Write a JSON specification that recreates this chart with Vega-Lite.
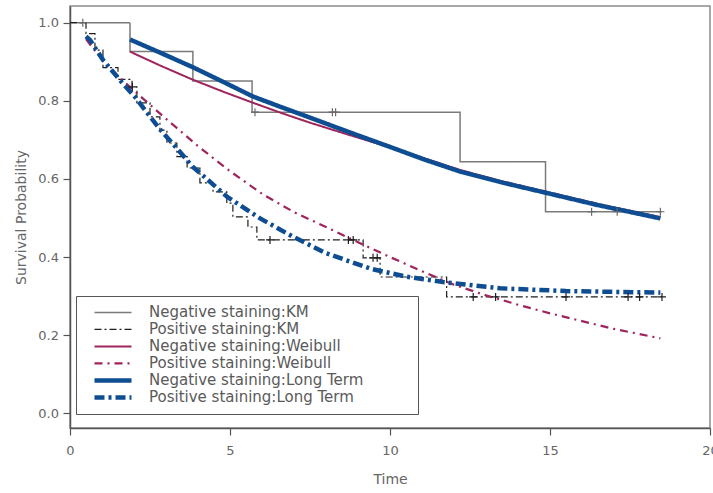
{
  "$schema": "https://vega.github.io/schema/vega-lite/v6.json",
  "width": 640,
  "height": 422,
  "autosize": {"type": "none"},
  "padding": {"left": 70, "top": 6, "right": 3, "bottom": 65},
  "background": "white",
  "config": {
    "font": "DejaVu Sans",
    "view": {"stroke": "#8c8c8c", "strokeWidth": 1.5},
    "axis": {"grid": false, "domainColor": "#555555", "domainWidth": 1.5, "tickColor": "#555555", "tickWidth": 1.2, "tickSize": 7, "labelColor": "#666666", "labelFontSize": 13, "titleColor": "#666666", "titleFontSize": 14, "titleFontWeight": "normal"},
    "legend": {"orient": "none", "legendX": 6, "legendY": 290, "titleOrient": "right", "titlePadding": 47, "strokeColor": "#555555", "padding": 8, "symbolType": "stroke", "symbolSize": 1369, "clipHeight": 16.8, "rowPadding": 0, "labelOffset": 15, "labelFontSize": 15, "labelColor": "#5a5a5a", "symbolOffset": 8, "labelLimit": 400}
  },
  "datasets": {
    "km": [
      {"series": "Negative staining:KM", "time": 0, "surv": 1.0},
      {"series": "Negative staining:KM", "time": 1.875, "surv": 0.926},
      {"series": "Negative staining:KM", "time": 3.84, "surv": 0.851},
      {"series": "Negative staining:KM", "time": 5.69, "surv": 0.771},
      {"series": "Negative staining:KM", "time": 12.19, "surv": 0.644},
      {"series": "Negative staining:KM", "time": 14.86, "surv": 0.516},
      {"series": "Negative staining:KM", "time": 18.49, "surv": 0.516},
      {"series": "Positive staining:KM", "time": 0, "surv": 1.0},
      {"series": "Positive staining:KM", "time": 0.5, "surv": 0.972},
      {"series": "Positive staining:KM", "time": 0.78, "surv": 0.93},
      {"series": "Positive staining:KM", "time": 1.03, "surv": 0.885},
      {"series": "Positive staining:KM", "time": 1.5, "surv": 0.855},
      {"series": "Positive staining:KM", "time": 1.94, "surv": 0.836},
      {"series": "Positive staining:KM", "time": 2.09, "surv": 0.795},
      {"series": "Positive staining:KM", "time": 2.5, "surv": 0.759},
      {"series": "Positive staining:KM", "time": 2.81, "surv": 0.725},
      {"series": "Positive staining:KM", "time": 3.03, "surv": 0.692},
      {"series": "Positive staining:KM", "time": 3.34, "surv": 0.657},
      {"series": "Positive staining:KM", "time": 3.66, "surv": 0.628},
      {"series": "Positive staining:KM", "time": 4.06, "surv": 0.59},
      {"series": "Positive staining:KM", "time": 4.47, "surv": 0.567},
      {"series": "Positive staining:KM", "time": 4.9, "surv": 0.538},
      {"series": "Positive staining:KM", "time": 5.09, "surv": 0.503},
      {"series": "Positive staining:KM", "time": 5.56, "surv": 0.477},
      {"series": "Positive staining:KM", "time": 5.84, "surv": 0.444},
      {"series": "Positive staining:KM", "time": 9.16, "surv": 0.398},
      {"series": "Positive staining:KM", "time": 9.69, "surv": 0.349},
      {"series": "Positive staining:KM", "time": 11.77, "surv": 0.298},
      {"series": "Positive staining:KM", "time": 18.5, "surv": 0.298}
    ],
    "model": [
      {"series": "Negative staining:Weibull", "time": 1.875, "surv": 0.926},
      {"series": "Negative staining:Weibull", "time": 2.8, "surv": 0.891},
      {"series": "Negative staining:Weibull", "time": 3.84, "surv": 0.854},
      {"series": "Negative staining:Weibull", "time": 4.8, "surv": 0.823},
      {"series": "Negative staining:Weibull", "time": 5.72, "surv": 0.795},
      {"series": "Negative staining:Weibull", "time": 6.6, "surv": 0.769},
      {"series": "Negative staining:Weibull", "time": 7.5, "surv": 0.744},
      {"series": "Negative staining:Weibull", "time": 8.75, "surv": 0.712},
      {"series": "Negative staining:Weibull", "time": 10, "surv": 0.681},
      {"series": "Negative staining:Weibull", "time": 11.1, "surv": 0.652},
      {"series": "Negative staining:Weibull", "time": 12.19, "surv": 0.623},
      {"series": "Negative staining:Weibull", "time": 13.5, "surv": 0.594},
      {"series": "Negative staining:Weibull", "time": 14.9, "surv": 0.567},
      {"series": "Negative staining:Weibull", "time": 16.5, "surv": 0.536},
      {"series": "Negative staining:Weibull", "time": 18.45, "surv": 0.502},
      {"series": "Positive staining:Weibull", "time": 0.5, "surv": 0.958},
      {"series": "Positive staining:Weibull", "time": 1, "surv": 0.905},
      {"series": "Positive staining:Weibull", "time": 1.5, "surv": 0.864},
      {"series": "Positive staining:Weibull", "time": 2, "surv": 0.826},
      {"series": "Positive staining:Weibull", "time": 2.5, "surv": 0.79},
      {"series": "Positive staining:Weibull", "time": 3, "surv": 0.754},
      {"series": "Positive staining:Weibull", "time": 4, "surv": 0.684},
      {"series": "Positive staining:Weibull", "time": 5, "surv": 0.62},
      {"series": "Positive staining:Weibull", "time": 6, "surv": 0.562},
      {"series": "Positive staining:Weibull", "time": 7, "surv": 0.515},
      {"series": "Positive staining:Weibull", "time": 8, "surv": 0.477},
      {"series": "Positive staining:Weibull", "time": 9, "surv": 0.438},
      {"series": "Positive staining:Weibull", "time": 10, "surv": 0.4},
      {"series": "Positive staining:Weibull", "time": 11, "surv": 0.364},
      {"series": "Positive staining:Weibull", "time": 12, "surv": 0.329},
      {"series": "Positive staining:Weibull", "time": 13, "surv": 0.302},
      {"series": "Positive staining:Weibull", "time": 14, "surv": 0.278},
      {"series": "Positive staining:Weibull", "time": 15, "surv": 0.256},
      {"series": "Positive staining:Weibull", "time": 16, "surv": 0.236},
      {"series": "Positive staining:Weibull", "time": 17, "surv": 0.216},
      {"series": "Positive staining:Weibull", "time": 18.45, "surv": 0.192},
      {"series": "Negative staining:Long Term", "time": 1.875, "surv": 0.957},
      {"series": "Negative staining:Long Term", "time": 2.8, "surv": 0.924},
      {"series": "Negative staining:Long Term", "time": 3.84, "surv": 0.886},
      {"series": "Negative staining:Long Term", "time": 4.8, "surv": 0.848},
      {"series": "Negative staining:Long Term", "time": 5.72, "surv": 0.811},
      {"series": "Negative staining:Long Term", "time": 6.6, "surv": 0.784},
      {"series": "Negative staining:Long Term", "time": 7.5, "surv": 0.757},
      {"series": "Negative staining:Long Term", "time": 8.75, "surv": 0.719},
      {"series": "Negative staining:Long Term", "time": 10, "surv": 0.682},
      {"series": "Negative staining:Long Term", "time": 11.1, "surv": 0.649},
      {"series": "Negative staining:Long Term", "time": 12.19, "surv": 0.619},
      {"series": "Negative staining:Long Term", "time": 13.5, "surv": 0.591},
      {"series": "Negative staining:Long Term", "time": 14.9, "surv": 0.564},
      {"series": "Negative staining:Long Term", "time": 16.5, "surv": 0.533},
      {"series": "Negative staining:Long Term", "time": 18.45, "surv": 0.499},
      {"series": "Positive staining:Long Term", "time": 0.5, "surv": 0.965},
      {"series": "Positive staining:Long Term", "time": 0.625, "surv": 0.956},
      {"series": "Positive staining:Long Term", "time": 1.03, "surv": 0.905},
      {"series": "Positive staining:Long Term", "time": 1.56, "surv": 0.853},
      {"series": "Positive staining:Long Term", "time": 2.03, "surv": 0.81},
      {"series": "Positive staining:Long Term", "time": 2.81, "surv": 0.727},
      {"series": "Positive staining:Long Term", "time": 3.34, "surv": 0.678},
      {"series": "Positive staining:Long Term", "time": 3.84, "surv": 0.631},
      {"series": "Positive staining:Long Term", "time": 4.9, "surv": 0.555},
      {"series": "Positive staining:Long Term", "time": 5.94, "surv": 0.499},
      {"series": "Positive staining:Long Term", "time": 6.97, "surv": 0.452},
      {"series": "Positive staining:Long Term", "time": 8, "surv": 0.41},
      {"series": "Positive staining:Long Term", "time": 9.4, "surv": 0.37},
      {"series": "Positive staining:Long Term", "time": 10.5, "surv": 0.35},
      {"series": "Positive staining:Long Term", "time": 11.66, "surv": 0.336},
      {"series": "Positive staining:Long Term", "time": 13.44, "surv": 0.32},
      {"series": "Positive staining:Long Term", "time": 15.5, "surv": 0.313},
      {"series": "Positive staining:Long Term", "time": 18.45, "surv": 0.309}
    ],
    "censor": [
      {"group": "Negative", "time": 0.4, "surv": 1.0},
      {"group": "Negative", "time": 5.78, "surv": 0.771},
      {"group": "Negative", "time": 8.2, "surv": 0.771},
      {"group": "Negative", "time": 8.3, "surv": 0.771},
      {"group": "Negative", "time": 16.3, "surv": 0.516},
      {"group": "Negative", "time": 17.1, "surv": 0.516},
      {"group": "Negative", "time": 18.45, "surv": 0.516},
      {"group": "Positive", "time": 1.95, "surv": 0.836},
      {"group": "Positive", "time": 6.25, "surv": 0.444},
      {"group": "Positive", "time": 8.7, "surv": 0.444},
      {"group": "Positive", "time": 8.85, "surv": 0.444},
      {"group": "Positive", "time": 9.47, "surv": 0.398},
      {"group": "Positive", "time": 9.6, "surv": 0.398},
      {"group": "Positive", "time": 12.6, "surv": 0.298},
      {"group": "Positive", "time": 13.3, "surv": 0.298},
      {"group": "Positive", "time": 15.5, "surv": 0.298},
      {"group": "Positive", "time": 17.44, "surv": 0.298},
      {"group": "Positive", "time": 17.8, "surv": 0.298},
      {"group": "Positive", "time": 18.5, "surv": 0.298}
    ]
  },
  "encoding": {
    "x": {"field": "time", "type": "quantitative", "title": "Time",
      "scale": {"domain": [0, 20], "nice": false, "zero": false},
      "axis": {"values": [0, 5, 10, 15, 20], "labelPadding": 9, "titlePadding": 15, "labelFlush": false}},
    "y": {"field": "surv", "type": "quantitative", "title": "Survival Probability",
      "scale": {"domain": [-0.0376, 1.0428], "nice": false, "zero": false},
      "axis": {"values": [0, 0.2, 0.4, 0.6, 0.8, 1.0], "format": ".1f", "labelPadding": 4.5, "titlePadding": 9}}
  },
  "layer": [
    {
      "data": {"name": "km"},
      "mark": {"type": "line", "interpolate": "step-after", "clip": true},
      "encoding": {
        "color": {"field": "series", "type": "nominal", "title": "\u00a0", "scale": {"domain": ["Negative staining:KM", "Positive staining:KM", "Negative staining:Weibull", "Positive staining:Weibull", "Negative staining:Long Term", "Positive staining:Long Term"], "range": ["#7a7a7a", "#1e1e1e", "#a0245c", "#a0245c", "#0f4d92", "#0f4d92"]}},
        "strokeDash": {"field": "series", "type": "nominal", "title": "\u00a0", "scale": {"domain": ["Negative staining:KM", "Positive staining:KM", "Negative staining:Weibull", "Positive staining:Weibull", "Negative staining:Long Term", "Positive staining:Long Term"], "range": [[1, 0], [7, 3, 2, 3], [1, 0], [8, 5, 2, 5], [1, 0], [10, 4, 3, 4]]}},
        "strokeWidth": {"field": "series", "type": "nominal", "title": "\u00a0", "scale": {"type": "ordinal", "domain": ["Negative staining:KM", "Positive staining:KM", "Negative staining:Weibull", "Positive staining:Weibull", "Negative staining:Long Term", "Positive staining:Long Term"], "range": [1.5, 1.2, 2, 2.2, 4.5, 4.5]}}
      }
    },
    {
      "data": {"name": "model"},
      "mark": {"type": "line", "clip": true},
      "encoding": {
        "color": {"field": "series", "type": "nominal", "title": "\u00a0", "scale": {"domain": ["Negative staining:KM", "Positive staining:KM", "Negative staining:Weibull", "Positive staining:Weibull", "Negative staining:Long Term", "Positive staining:Long Term"], "range": ["#7a7a7a", "#1e1e1e", "#a0245c", "#a0245c", "#0f4d92", "#0f4d92"]}},
        "strokeDash": {"field": "series", "type": "nominal", "title": "\u00a0", "scale": {"domain": ["Negative staining:KM", "Positive staining:KM", "Negative staining:Weibull", "Positive staining:Weibull", "Negative staining:Long Term", "Positive staining:Long Term"], "range": [[1, 0], [7, 3, 2, 3], [1, 0], [8, 5, 2, 5], [1, 0], [10, 4, 3, 4]]}},
        "strokeWidth": {"field": "series", "type": "nominal", "title": "\u00a0", "scale": {"type": "ordinal", "domain": ["Negative staining:KM", "Positive staining:KM", "Negative staining:Weibull", "Positive staining:Weibull", "Negative staining:Long Term", "Positive staining:Long Term"], "range": [1.5, 1.2, 2, 2.2, 4.5, 4.5]}}
      }
    },
    {
      "data": {"name": "censor"},
      "mark": {"type": "point", "shape": "M-1,0H1M0,-1V1", "filled": false, "size": 64, "strokeWidth": 1.2, "opacity": 1},
      "encoding": {
        "stroke": {"field": "group", "type": "nominal", "scale": {"domain": ["Negative", "Positive"], "range": ["#6a6a6a", "#1e1e1e"]}, "legend": null}
      }
    }
  ]
}
